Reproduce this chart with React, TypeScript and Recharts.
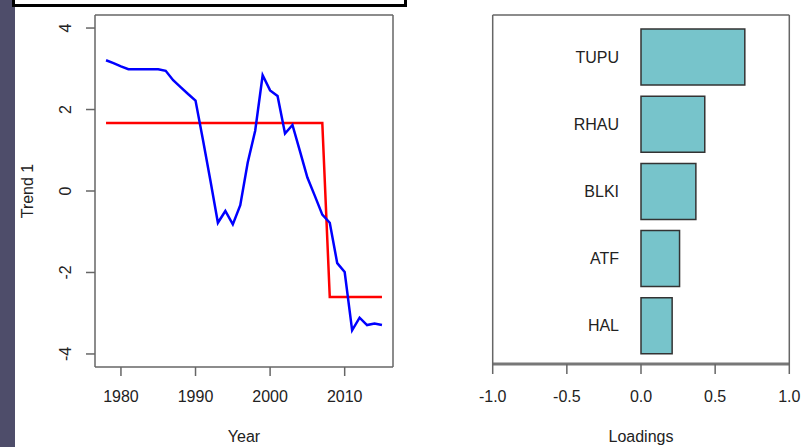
import React from 'react';
import { LineChart, Line, BarChart, Bar, XAxis, YAxis, LabelList } from 'recharts';

const years = [1978, 1979, 1980, 1981, 1982, 1983, 1984, 1985, 1986, 1987, 1988, 1989, 1990, 1991, 1992, 1993, 1994, 1995, 1996, 1997, 1998, 1999, 2000, 2001, 2002, 2003, 2004, 2005, 2006, 2007, 2008, 2009, 2010, 2011, 2012, 2013, 2014, 2015];
const trend = [3.21, 3.14, 3.06, 2.99, 2.99, 2.99, 2.99, 2.99, 2.95, 2.72, 2.55, 2.38, 2.22, 1.25, 0.25, -0.78, -0.49, -0.82, -0.35, 0.70, 1.48, 2.84, 2.47, 2.33, 1.41, 1.62, 0.98, 0.33, -0.12, -0.58, -0.78, -1.77, -1.99, -3.42, -3.11, -3.29, -3.25, -3.29];
const fitted = [1.67, 1.67, 1.67, 1.67, 1.67, 1.67, 1.67, 1.67, 1.67, 1.67, 1.67, 1.67, 1.67, 1.67, 1.67, 1.67, 1.67, 1.67, 1.67, 1.67, 1.67, 1.67, 1.67, 1.67, 1.67, 1.67, 1.67, 1.67, 1.67, 1.67, -2.6, -2.6, -2.6, -2.6, -2.6, -2.6, -2.6, -2.6];
const yearTicks = [1980, 1990, 2000, 2010];
const trendTicks = [-4, -2, 0, 2, 4];

const species = ['TUPU', 'RHAU', 'BLKI', 'ATF', 'HAL'];
const loadings = [0.70, 0.43, 0.37, 0.26, 0.21];
const loadingTicks = [-1, -0.5, 0, 0.5, 1];

const lineData = years.map((y, i) => ({ year: y, trend: trend[i], fitted: fitted[i] }));
const barData = species.map((s, i) => ({ name: s, loading: loadings[i] }));

const FONT = '"Liberation Sans", Arial, sans-serif';
const TEXT = '#222';
const BOX = '#666';

const RotTick = (props: any) => {
  const { x, y, payload } = props;
  return (
    <text x={x} y={y} transform={`rotate(-90, ${x}, ${y})`} textAnchor="middle" fontSize={16} fontFamily={FONT} fill={TEXT}>
      {payload.value}
    </text>
  );
};

const TrendLabel = (props: any) => {
  const vb = props.viewBox || {};
  const x = (vb.x || 0) + 33;
  const y = (vb.y || 0) + (vb.height || 0) / 2;
  return (
    <text x={x} y={y} transform={`rotate(-90, ${x}, ${y})`} textAnchor="middle" fontSize={16} fontFamily={FONT} fill={TEXT}>
      Trend 1
    </text>
  );
};

const BarNameLabel = (props: any) => {
  const { x, y, height, value } = props;
  return (
    <text x={x - 22} y={y + height / 2} textAnchor="end" dominantBaseline="central" fontSize={16} fontFamily={FONT} fill={TEXT}>
      {value}
    </text>
  );
};

export default function App() {
  return (
    <div style={{ position: 'absolute', left: 0, top: 0, width: 807, height: 447, background: '#fff', overflow: 'hidden', fontFamily: FONT }}>
      <div style={{ position: 'absolute', left: 0, top: 0, width: 15, height: 447, background: '#4e4d6a' }} />
      <div style={{ position: 'absolute', left: 12, top: -6, width: 389, height: 7, border: '3px solid #000', background: '#fff' }} />
      <div style={{ position: 'absolute', left: 0, top: 0 }}>
        <LineChart width={420} height={447} data={lineData} margin={{ top: 14, right: 26, bottom: 0, left: 0 }}>
          <XAxis
            dataKey="year"
            type="number"
            domain={[1976.52, 2016.48]}
            ticks={yearTicks}
            allowDataOverflow
            height={80}
            tickSize={9}
            tickMargin={15}
            axisLine={{ stroke: BOX, strokeWidth: 1.5 }}
            tickLine={{ stroke: BOX, strokeWidth: 1.5 }}
            tick={{ fontSize: 16, fontFamily: FONT, fill: TEXT }}
            label={{ value: 'Year', position: 'insideBottom', offset: 5, fontSize: 16, fontFamily: FONT, fill: TEXT }}
          />
          <XAxis xAxisId="top" orientation="top" dataKey="year" type="number" domain={[1976.52, 2016.48]} allowDataOverflow height={1} tick={false} tickLine={false} axisLine={{ stroke: BOX, strokeWidth: 1.5 }} />
          <YAxis
            type="number"
            domain={[-4.32, 4.32]}
            ticks={trendTicks}
            allowDataOverflow
            width={95}
            tickSize={9}
            tickMargin={15}
            axisLine={{ stroke: BOX, strokeWidth: 1.5 }}
            tickLine={{ stroke: BOX, strokeWidth: 1.5 }}
            tick={<RotTick />}
            label={<TrendLabel />}
          />
          <YAxis yAxisId="right" orientation="right" type="number" domain={[-4.32, 4.32]} allowDataOverflow width={1} tick={false} tickLine={false} axisLine={{ stroke: BOX, strokeWidth: 1.5 }} />
          <Line dataKey="fitted" stroke="#ff0000" strokeWidth={2.5} dot={false} isAnimationActive={false} />
          <Line dataKey="trend" stroke="#0000ff" strokeWidth={2.5} dot={false} isAnimationActive={false} />
        </LineChart>
      </div>
      <div style={{ position: 'absolute', left: 420, top: 0 }}>
        <BarChart width={387} height={447} data={barData} layout="vertical" margin={{ top: 14, right: 16.7, bottom: 0, left: 71.7 }}>
          <XAxis
            type="number"
            dataKey="loading"
            domain={[-1, 1]}
            ticks={loadingTicks}
            allowDataOverflow
            height={83}
            tickSize={10}
            tickMargin={17}
            tickFormatter={(v: number) => v.toFixed(1)}
            axisLine={{ stroke: '#777', strokeWidth: 3 }}
            tickLine={{ stroke: '#666', strokeWidth: 1.5 }}
            tick={{ fontSize: 16, fontFamily: FONT, fill: TEXT }}
            label={{ value: 'Loadings', position: 'insideBottom', offset: 5.5, fontSize: 16, fontFamily: FONT, fill: TEXT }}
          />
          <XAxis xAxisId="top" orientation="top" type="number" domain={[-1, 1]} allowDataOverflow height={1} tick={false} tickLine={false} axisLine={{ stroke: BOX, strokeWidth: 1.5 }} />
          <YAxis type="category" dataKey="name" width={1} padding={{ top: 8, bottom: 5 }} tick={false} tickLine={false} axisLine={{ stroke: BOX, strokeWidth: 1.5 }} />
          <YAxis yAxisId="right" orientation="right" type="category" dataKey="name" width={1} tick={false} tickLine={false} axisLine={{ stroke: BOX, strokeWidth: 1.5 }} />
          <Bar dataKey="loading" fill="#77c4cb" stroke="#333" strokeWidth={1.5} barSize={56} isAnimationActive={false}>
            <LabelList dataKey="name" content={<BarNameLabel />} />
          </Bar>
        </BarChart>
      </div>
    </div>
  );
}
